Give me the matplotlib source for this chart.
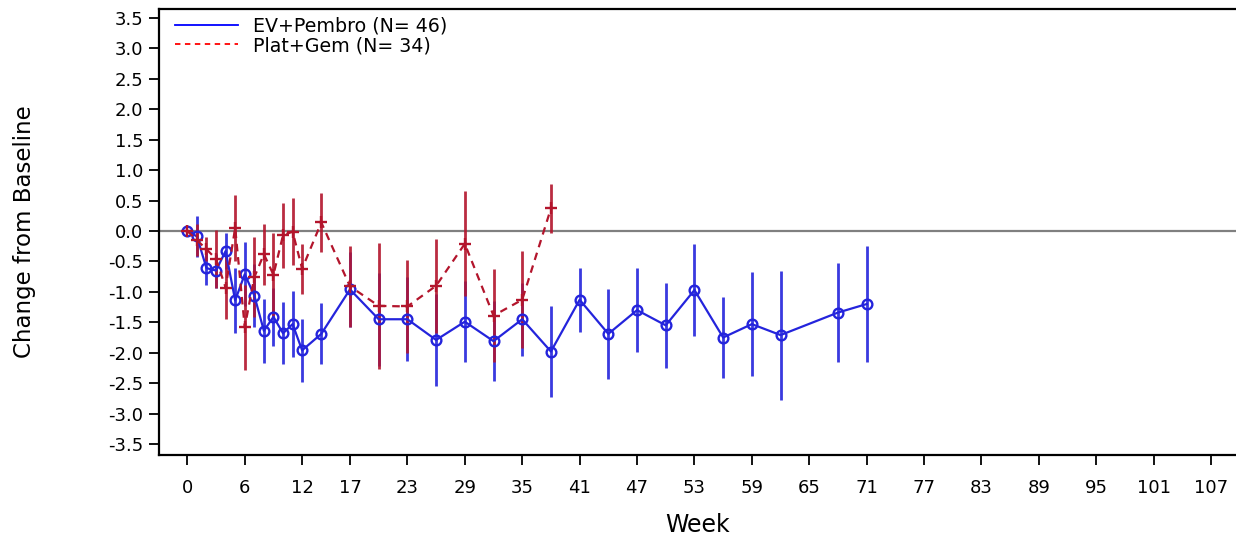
import matplotlib
matplotlib.use("Agg")
import matplotlib.pyplot as plt
from matplotlib.lines import Line2D

# Mean change from baseline by week, with error half-widths
weeks_ev = [0, 1, 2, 3, 4, 5, 6, 7, 8, 9, 10, 11, 12, 14, 17, 20, 23, 26, 29, 32,
            35, 38, 41, 44, 47, 50, 53, 56, 59, 62, 68, 71]
mean_ev = [0.00, -0.09, -0.61, -0.65, -0.33, -1.14, -0.71, -1.06, -1.64, -1.41,
           -1.68, -1.53, -1.96, -1.69, -0.96, -1.45, -1.45, -1.79, -1.49, -1.81,
           -1.45, -1.98, -1.13, -1.69, -1.30, -1.55, -0.97, -1.75, -1.53, -1.71,
           -1.34, -1.20]
err_ev = [0.00, 0.33, 0.27, 0.28, 0.29, 0.53, 0.53, 0.51, 0.53, 0.48, 0.51, 0.54,
          0.52, 0.50, 0.62, 0.76, 0.69, 0.75, 0.67, 0.66, 0.60, 0.75, 0.53, 0.74,
          0.69, 0.70, 0.75, 0.66, 0.85, 1.06, 0.82, 0.95]

weeks_pg = [0, 1, 2, 3, 4, 5, 6, 7, 8, 9, 10, 11, 12, 14, 17, 20, 23, 26, 29, 32,
            35, 38]
mean_pg = [0.00, -0.15, -0.30, -0.46, -0.93, 0.05, -1.58, -0.76, -0.38, -0.72,
           -0.07, -0.01, -0.62, 0.14, -0.91, -1.23, -1.24, -0.90, -0.21, -1.39,
           -1.13, 0.37]
err_pg = [0.00, 0.26, 0.20, 0.47, 0.52, 0.54, 0.70, 0.66, 0.50, 0.68, 0.53, 0.55,
          0.41, 0.49, 0.67, 1.04, 0.76, 0.77, 0.86, 0.77, 0.80, 0.41]

label_ev = "EV+Pembro (N= 46)"
label_pg = "Plat+Gem (N= 34)"

x_ticks = [0, 6, 12, 17, 23, 29, 35, 41, 47, 53, 59, 65, 71, 77, 83, 89, 95, 101, 107]
y_ticks = [3.5, 3.0, 2.5, 2.0, 1.5, 1.0, 0.5, 0.0, -0.5, -1.0, -1.5, -2.0, -2.5,
           -3.0, -3.5]

blue = "#2424DC"
red = "#B3152C"

plt.rcParams["font.family"] = ["DejaVu Sans"]

fig = plt.figure(figsize=(12.36, 5.38), dpi=100)
ax = fig.add_axes([159.3 / 1236, 1 - 455 / 538, 1 - 159.3 / 1236, (455 - 8.8) / 538])

ax.axhline(0, color="#808080", lw=1.6, zorder=1)

# error bars first, then the connecting lines and markers
ax.errorbar(weeks_ev, mean_ev, yerr=err_ev, fmt="none", ecolor=blue, elinewidth=2.0,
            capsize=0, alpha=0.9, zorder=2)
ax.errorbar(weeks_pg, mean_pg, yerr=err_pg, fmt="none", ecolor=red, elinewidth=2.0,
            capsize=0, alpha=0.9, zorder=3)
ax.plot(weeks_ev, mean_ev, color=blue, lw=1.6, marker="o", ms=7, mfc="none",
        mec=blue, mew=1.7, zorder=4)
ax.plot(weeks_pg, mean_pg, color=red, lw=1.6, ls=(0, (3.4, 2.6)), marker="+",
        ms=8.5, mec=red, mew=1.7, zorder=5)

ax.set_xlim(-2.93, 109.6)
ax.set_ylim(-3.68, 3.65)
ax.set_xticks(x_ticks)
ax.set_xticklabels([str(t) for t in x_ticks])
ax.set_yticks(y_ticks)
ax.set_yticklabels([f"{t:.1f}" for t in y_ticks])

for side in ("left", "bottom", "top"):
    ax.spines[side].set_linewidth(1.6)
    ax.spines[side].set_color("black")
ax.spines["right"].set_visible(False)

ax.tick_params(axis="both", direction="out", length=7.5, width=1.3, labelsize=13,
               colors="black")
ax.tick_params(axis="x", pad=9.5)
ax.tick_params(axis="y", pad=4)

ax.set_xlabel("Week", fontsize=17)
ax.set_ylabel("Change from Baseline", fontsize=16.5)
ax.xaxis.set_label_coords(0.5, (455 - 513) / 446.2)
ax.yaxis.set_label_coords((36 - 159.3) / 1076.7, 0.5)

handles = [Line2D([], [], color="#0000FF", lw=1.3),
           Line2D([], [], color="#FF0000", lw=1.3, ls=(0, (3, 2.5)))]
ax.legend(handles, [label_ev, label_pg], loc="upper left",
          bbox_to_anchor=((175 - 159.3) / 1076.7, (455 - 17) / 446.2),
          frameon=False, fontsize=13.7, borderpad=0, borderaxespad=0,
          handlelength=3.3, handletextpad=0.8, labelspacing=0.0)

fig.savefig("out.png", dpi=100)
